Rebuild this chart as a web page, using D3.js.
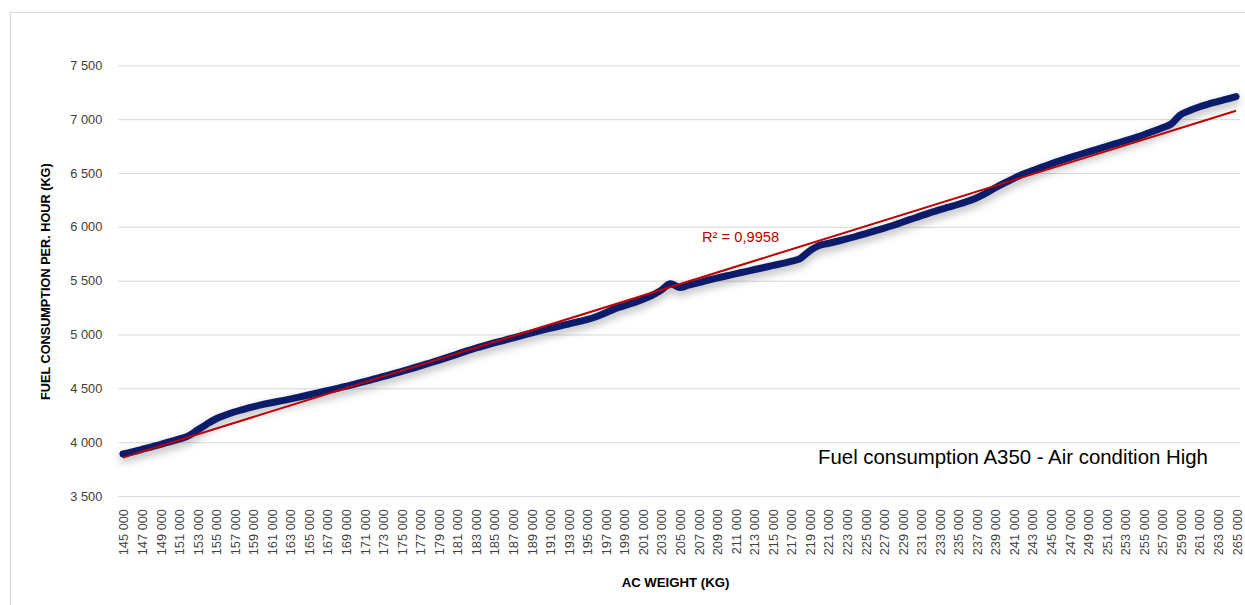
<!DOCTYPE html>
<html>
<head>
<meta charset="utf-8">
<script src="https://cdn.jsdelivr.net/npm/d3@7/dist/d3.min.js"></script>
<style>
  html, body { margin: 0; padding: 0; background: #ffffff; }
  svg { display: block; font-family: "Liberation Sans", Arial, sans-serif; }
</style>
</head>
<body>
<svg id="chart" width="1245" height="605"></svg>
<script>
// Aircraft weight categories (kg), 145 000 to 265 000 in 1 000 kg steps
const weights = d3.range(145000, 265001, 1000);

// Fuel consumption per hour (kg) for each weight
const fuelPerHour = [
  3890, 3910, 3932, 3955, 3978, 4002, 4028, 4056, 4110, 4165,
  4215, 4250, 4280, 4305, 4328, 4348, 4366, 4383, 4400, 4418,
  4438, 4458, 4478, 4498, 4518, 4540, 4562, 4585, 4608, 4632,
  4656, 4680, 4706, 4733, 4760, 4788, 4816, 4845, 4872, 4897,
  4921, 4944, 4967, 4990, 5013, 5035, 5056, 5076, 5097, 5117,
  5138, 5165, 5200, 5238, 5265, 5292, 5325, 5362, 5410, 5472,
  5437, 5458, 5480, 5502, 5523, 5543, 5563, 5582, 5601, 5620,
  5639, 5658, 5678, 5705, 5775, 5825, 5845, 5866, 5887, 5910,
  5935, 5960, 5985, 6012, 6042, 6072, 6102, 6130, 6157, 6182,
  6207, 6235, 6268, 6310, 6360, 6405, 6448, 6488, 6520, 6552,
  6583, 6612, 6640, 6667, 6694, 6720, 6746, 6772, 6798, 6825,
  6853, 6885, 6918, 6955, 7040, 7080, 7113, 7140, 7163, 7185,
  7210
];

// Value axis ticks
const yTicks = [3500, 4000, 4500, 5000, 5500, 6000, 6500, 7000, 7500];

// Text
const yTitle = "FUEL CONSUMPTION PER. HOUR (KG)";
const xTitle = "AC WEIGHT (KG)";
const chartLabel = "Fuel consumption A350 - Air condition High";
const r2Label = "R² = 0,9958";

const fmt = v => d3.format(",")(v).replace(/,/g, "\u00a0");

const svg = d3.select("#chart");
const plot = { left: 118.3, right: 1240.7, top: 65.3, bottom: 496 };

// Chart frame
svg.append("rect")
  .attr("x", 10.5).attr("y", 12.5)
  .attr("width", 1260).attr("height", 620)
  .attr("fill", "#ffffff")
  .attr("stroke", "#d9d9d9").attr("stroke-width", 1);

const x = d3.scaleBand().domain(weights).range([plot.left, plot.right]);
const cx = d => x(d) + x.bandwidth() / 2;
const y = d3.scaleLinear().domain([3500, 7500]).range([plot.bottom, plot.top]);

// Horizontal gridlines and value labels
const yAxis = d3.axisLeft(y).tickValues(yTicks).tickFormat(fmt)
  .tickSize(-(plot.right - plot.left)).tickPadding(16);
const gy = svg.append("g")
  .attr("transform", `translate(${plot.left},0)`)
  .call(yAxis);
gy.select(".domain").remove();
gy.selectAll(".tick line").attr("stroke", "#d9d9d9").attr("stroke-width", 1);
gy.selectAll(".tick text")
  .attr("fill", "#404040")
  .style("font-size", "12.8px")
  .style("font-family", "'Liberation Sans', Arial, sans-serif");

// Category labels (every other weight), rotated
const xAxis = d3.axisBottom(x)
  .tickValues(weights.filter((d, i) => i % 2 === 0))
  .tickFormat(fmt).tickSize(0).tickPadding(0);
const gx = svg.append("g")
  .attr("transform", `translate(0,${plot.bottom})`)
  .call(xAxis);
gx.select(".domain").remove();
gx.selectAll(".tick text")
  .attr("fill", "#404040")
  .style("font-size", "12.8px")
  .style("font-family", "'Liberation Sans', Arial, sans-serif")
  .attr("text-anchor", "end")
  .attr("transform", "rotate(-90)")
  .attr("x", -13)
  .attr("y", 1)
  .attr("dy", "0.35em");

// Drop shadow for the series line
const defs = svg.append("defs");
const f = defs.append("filter").attr("id", "lineShadow")
  .attr("x", "-5%").attr("y", "-20%").attr("width", "110%").attr("height", "150%");
f.append("feDropShadow")
  .attr("dx", 0).attr("dy", 4).attr("stdDeviation", 4)
  .attr("flood-color", "#000000").attr("flood-opacity", 0.3);

const series = weights.map((w, i) => ({ w, v: fuelPerHour[i] }));

const line = d3.line()
  .x(d => cx(d.w))
  .y(d => y(d.v))
  .curve(d3.curveCatmullRom.alpha(0.5));

svg.append("path")
  .datum(series)
  .attr("d", line)
  .attr("fill", "none")
  .attr("stroke", "#0a1f6a")
  .attr("stroke-width", 7)
  .attr("stroke-linecap", "round")
  .attr("stroke-linejoin", "round")
  .attr("filter", "url(#lineShadow)");

// Linear trendline (least squares over category index)
const n = series.length;
const xs = d3.range(1, n + 1);
const mx = d3.mean(xs), my = d3.mean(fuelPerHour);
const slope = d3.sum(xs, (xi, i) => (xi - mx) * (fuelPerHour[i] - my)) /
              d3.sum(xs, xi => (xi - mx) * (xi - mx));
const intercept = my - slope * mx;
const trend = [0, n - 1].map(i => ({ w: weights[i], v: intercept + slope * (i + 1) }));

svg.append("path")
  .datum(trend)
  .attr("d", d3.line().x(d => cx(d.w)).y(d => y(d.v)))
  .attr("fill", "none")
  .attr("stroke", "#c00000")
  .attr("stroke-width", 2);

// Trendline label
svg.append("text")
  .attr("x", 702).attr("y", 242)
  .attr("fill", "#c00000")
  .style("font-size", "14.7px")
  .text(r2Label);

// In-plot chart label
svg.append("text")
  .attr("x", 818).attr("y", 463.5)
  .attr("fill", "#000000")
  .style("font-size", "20.4px")
  .text(chartLabel);

// Axis titles
svg.append("text")
  .attr("transform", `translate(50,${(plot.top + plot.bottom) / 2 + 1}) rotate(-90)`)
  .attr("text-anchor", "middle")
  .attr("fill", "#000000")
  .style("font-size", "12.7px")
  .style("font-weight", "bold")
  .text(yTitle);

svg.append("text")
  .attr("x", (plot.left + plot.right) / 2 - 4).attr("y", 587)
  .attr("text-anchor", "middle")
  .attr("fill", "#000000")
  .style("font-size", "13.2px")
  .style("font-weight", "bold")
  .text(xTitle);
</script>
</body>
</html>
